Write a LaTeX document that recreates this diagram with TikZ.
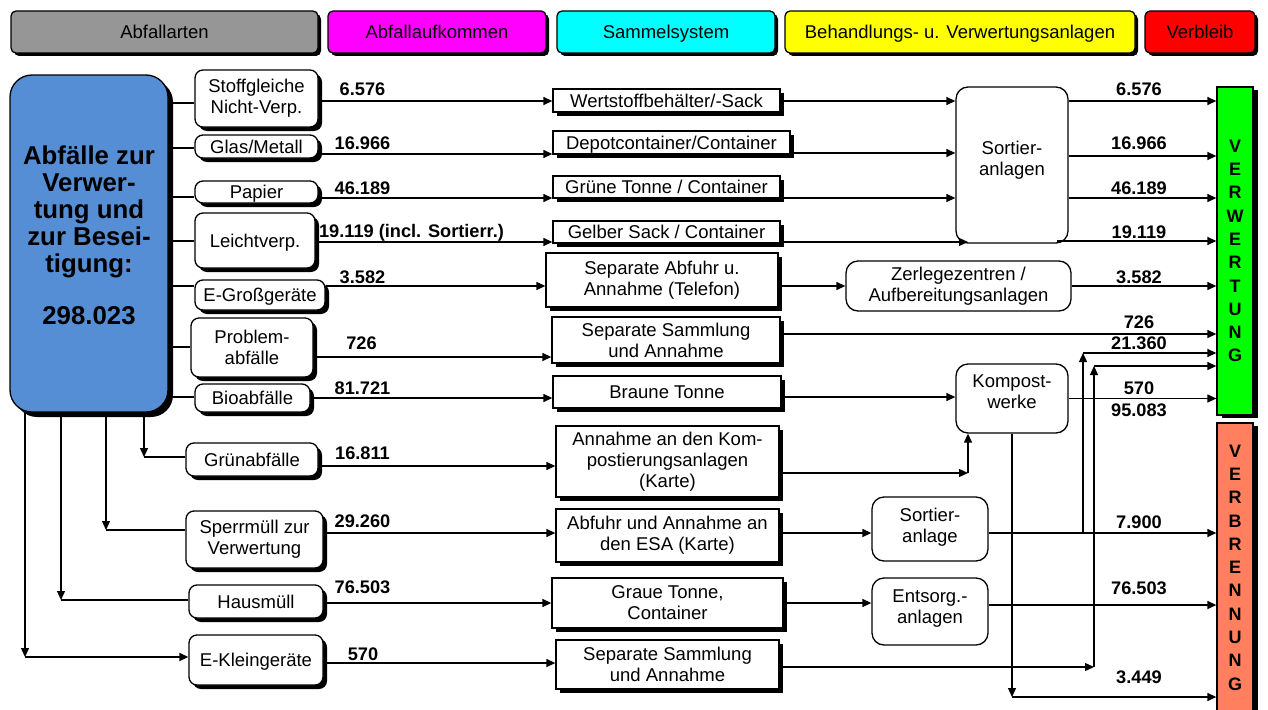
\documentclass[tikz,border=0pt]{standalone}
\usepackage{fontspec}
\setmainfont{Liberation Sans}
\usetikzlibrary{arrows.meta,shadows}
\definecolor{hgray}{RGB}{150,150,150}
\definecolor{hmag}{RGB}{255,0,255}
\definecolor{hcyan}{RGB}{0,255,255}
\definecolor{hyel}{RGB}{255,255,0}
\definecolor{hred}{RGB}{255,0,0}
\definecolor{abfblue}{RGB}{85,142,213}
\definecolor{vgreen}{RGB}{0,255,0}
\definecolor{vsalmon}{RGB}{255,127,95}
\begin{document}
\begin{tikzpicture}[x=1pt,y=-1pt,
  lw/.style={line width=1.3pt},
  arr/.style={line width=1.3pt,-{Triangle[length=9pt,width=8pt]}},
  one/.style={text height=13.3pt,text depth=0pt},
  hdr/.style={draw,line width=1.3pt,rounded corners=5pt,minimum height=42pt,inner sep=0pt,one,
    font=\fontsize{18.5}{21}\selectfont,
    drop shadow={shadow xshift=3pt,shadow yshift=-3pt,fill=black,opacity=1}},
  shad/.style={drop shadow={shadow xshift=4pt,shadow yshift=-4pt,fill=black,opacity=1}},
  txt/.style={inner sep=0pt,align=center,font=\fontsize{18.5}{21}\selectfont},
  lbox/.style={txt,draw,fill=white,line width=1.3pt,rounded corners=8pt,shad},
  mbox/.style={txt,draw,fill=white,line width=1.3pt,shad},
  rbox/.style={txt,draw,fill=white,line width=1.3pt,rounded corners=12pt},
  num/.style={inner sep=0pt,font=\bfseries\fontsize{18.2}{20}\selectfont},
  bar/.style={draw,line width=1.3pt,inner sep=0pt,minimum width=36pt,align=center,
    font=\bfseries\fontsize{18}{23.3}\selectfont,
    drop shadow={shadow xshift=5pt,shadow yshift=-3pt,fill=black,opacity=1}}
]
\useasboundingbox (0,0) rectangle (1268,709);

% headers
\node[hdr,fill=hgray,minimum width=307pt] (hA) at (164.5,32) {Abfallarten};
\node[hdr,fill=hmag,minimum width=218pt] (hB) at (437,32) {Abfallaufkommen};
\node[hdr,fill=hcyan,minimum width=218pt] (hC) at (666,32) {Sammelsystem};
\node[hdr,fill=hyel,minimum width=350pt] (hD) at (960,32) {Behandlungs- u. Verwertungsanlagen};
\node[hdr,fill=hred,minimum width=110pt] (hE) at (1200,32) {Verbleib};

% big blue box
\node[txt,draw,fill=abfblue,line width=1.3pt,rounded corners=22pt,minimum width=158pt,minimum height=337pt,
  font=\bfseries\fontsize{25.8}{27}\selectfont,
  drop shadow={shadow xshift=5pt,shadow yshift=-5pt,fill=black,opacity=1}]
  (blue) at (89,243.5) {Abfälle zur\\Verwer-\\tung und\\zur Besei-\\tigung:\\[25pt]298.023\\[-10pt]\mbox{}};

% left boxes
\node[lbox,minimum width=123pt,minimum height=57pt] (stoff) at (256.5,98.5) {Stoffgleiche\\Nicht-Verp.};
\node[lbox,one,minimum width=123pt,minimum height=23pt] (glas) at (256.5,146.5) {Glas/Metall};
\node[lbox,one,minimum width=123pt,minimum height=22pt] (papier) at (256.5,192) {Papier};
\node[lbox,one,minimum width=120pt,minimum height=55pt] (leicht) at (255,240.5) {Leichtverp.};
\node[lbox,one,minimum width=130pt,minimum height=30pt] (egross) at (260,295) {E-Großgeräte};
\node[lbox,minimum width=122pt,minimum height=59pt] (problem) at (252,347.5) {Problem-\\abfälle};
\node[lbox,one,minimum width=115pt,minimum height=28pt] (bio) at (252.5,398) {Bioabfälle};
\node[lbox,one,minimum width=132pt,minimum height=33pt] (gruen) at (252,459.5) {Grünabfälle};
\node[lbox,minimum width=137pt,minimum height=57pt] (sperr) at (254.5,539.5) {Sperrmüll zur\\Verwertung};
\node[lbox,one,minimum width=134pt,minimum height=33pt] (haus) at (256,601.5) {Hausmüll};
\node[lbox,one,minimum width=134pt,minimum height=50pt] (eklein) at (256,660) {E-Kleingeräte};

% middle boxes
\node[mbox,one,minimum width=227pt,minimum height=23pt] (wert) at (666.5,100.5) {Wertstoffbehälter/-Sack};
\node[mbox,one,minimum width=237pt,minimum height=23pt] (depot) at (671.5,142.5) {Depotcontainer/Container};
\node[mbox,one,minimum width=227pt,minimum height=22pt] (gruene) at (666.5,187) {Grüne Tonne / Container};
\node[mbox,one,minimum width=227pt,minimum height=22pt] (gelb) at (666.5,232) {Gelber Sack / Container};
\node[mbox,minimum width=232pt,minimum height=54pt] (sepab) at (662,280) {Separate Abfuhr u.\\Annahme (Telefon)};
\node[mbox,minimum width=228pt,minimum height=46pt] (sepsam) at (666,340) {Separate Sammlung\\und Annahme};
\node[mbox,one,minimum width=228pt,minimum height=32pt] (braune) at (667,392) {Braune Tonne};
\node[mbox,minimum width=223pt,minimum height=71pt] (annk) at (667.5,461.5) {Annahme an den Kom-\\postierungsanlagen\\(Karte)};
\node[mbox,minimum width=223pt,minimum height=53pt] (abfesa) at (667.5,535.5) {Abfuhr und Annahme an\\den ESA (Karte)};
\node[mbox,minimum width=231pt,minimum height=50pt] (graue) at (667.5,603) {Graue Tonne,\\Container};
\node[mbox,minimum width=223pt,minimum height=49pt] (sepsam2) at (667.5,664.5) {Separate Sammlung\\und Annahme};

% treatment boxes
\node[rbox,minimum width=112pt,minimum height=156pt] (sort) at (1012,165) {Sortier-\\anlagen\\[-7pt]\mbox{}};
\node[rbox,minimum width=225pt,minimum height=50pt] (zerl) at (958.5,286) {Zerlegezentren /\\Aufbereitungsanlagen};
\node[rbox,minimum width=112pt,minimum height=69pt] (kompost) at (1012,398.5) {Kompost-\\werke\\[-8pt]\mbox{}};
\node[rbox,minimum width=116pt,minimum height=64pt] (sortl) at (930,529) {Sortier-\\anlage\\[-13pt]\mbox{}};
\node[rbox,minimum width=116pt,minimum height=67pt] (entsorg) at (930,611.5) {Entsorg.-\\anlagen\\[-12pt]\mbox{}};

% bars
\node[bar,fill=vgreen,minimum height=328pt] (verw) at (1235,251) {V\\E\\R\\W\\E\\R\\T\\U\\N\\G};
\node[bar,fill=vsalmon,minimum height=289pt] (verb) at (1235,567.5) {V\\E\\R\\B\\R\\E\\N\\N\\U\\N\\G};

% row coordinates
\coordinate (b1) at (0,103);
\coordinate (b2) at (0,148);
\coordinate (b3) at (0,197);
\coordinate (b4) at (0,241);
\coordinate (b5) at (0,286);
\coordinate (b6) at (0,347);
\coordinate (b7) at (0,397);
\coordinate (r1) at (0,101);
\coordinate (r2) at (0,154);
\coordinate (r3) at (0,198);
\coordinate (r4) at (0,242);
\coordinate (r5) at (0,286);
\coordinate (r6) at (0,357);
\coordinate (r7) at (0,398);
\coordinate (r8) at (0,466);
\coordinate (r9) at (0,533);
\coordinate (r10) at (0,603);
\coordinate (r11) at (0,663);
\coordinate (s2) at (0,153);
\coordinate (o2) at (0,156);
\coordinate (q6) at (0,334);
\coordinate (k7) at (0,397);
\coordinate (e10) at (0,605);
\coordinate (gelbend) at (968,242);
\coordinate (s4) at (1057,241);
\coordinate (kc) at (968,473);
\coordinate (kd) at (1012,697);
\coordinate (j1b) at (1083,533);
\coordinate (j1t) at (1083,353);
\coordinate (j2b) at (1094,667);
\coordinate (j2t) at (1094,366);
\coordinate (c8) at (144,457);
\coordinate (c9) at (106,530);
\coordinate (c10) at (61,600);
\coordinate (c11) at (25,657);

% blue box to left boxes
\draw[lw] (blue.east |- b1) -- (stoff.west |- b1);
\draw[lw] (blue.east |- b2) -- (glas.west |- b2);
\draw[lw] (blue.east |- b3) -- (papier.west |- b3);
\draw[lw] (blue.east |- b4) -- (leicht.west |- b4);
\draw[lw] (blue.east |- b5) -- (egross.west |- b5);
\draw[lw] (blue.east |- b6) -- (problem.west |- b6);
\draw[lw] (blue.east |- b7) -- (bio.west |- b7);
\draw[arr] (blue.south -| c8) -- (c8);
\draw[lw] (c8) -- (gruen.west |- c8);
\draw[arr] (blue.south -| c9) -- (c9);
\draw[lw] (c9) -- (sperr.west |- c9);
\draw[arr] (blue.south -| c10) -- (c10);
\draw[lw] (c10) -- (haus.west |- c10);
\draw[arr] (blue.south -| c11) -- (c11);
\draw[arr] (c11) -- (eklein.west |- c11);

% left boxes to collection systems
\draw[arr] (stoff.east |- r1) -- (wert.west |- r1);
\draw[arr] (glas.east |- r2) -- (depot.west |- r2);
\draw[arr] (papier.east |- r3) -- (gruene.west |- r3);
\draw[arr] (leicht.east |- r4) -- (gelb.west |- r4);
\draw[arr] (egross.east |- r5) -- (sepab.west |- r5);
\draw[arr] (problem.east |- r6) -- (sepsam.west |- r6);
\draw[arr] (bio.east |- r7) -- (braune.west |- r7);
\draw[arr] (gruen.east |- r8) -- (annk.west |- r8);
\draw[arr] (sperr.east |- r9) -- (abfesa.west |- r9);
\draw[arr] (haus.east |- r10) -- (graue.west |- r10);
\draw[arr] (eklein.east |- r11) -- (sepsam2.west |- r11);

% left amounts
\node[num] (l1) at (362.5,89) {6.576};
\node[num] (l2) at (362.5,143) {16.966};
\node[num] (l3) at (362.5,188) {46.189};
\node[num] (l4) at (411.5,233) {19.119 (incl. Sortierr.)};
\node[num] (l5) at (362.5,277) {3.582};
\node[num] (l6) at (361.5,343) {726};
\node[num] (l7) at (362.5,388) {81.721};
\node[num] (l8) at (362.5,453) {16.811};
\node[num] (l9) at (362.5,521) {29.260};
\node[num] (l10) at (362.5,587) {76.503};
\node[num] (l11) at (363,654) {570};

% collection to treatment
\draw[arr] (wert.east |- r1) -- (sort.west |- r1);
\draw[arr] (depot.east |- s2) -- (sort.west |- s2);
\draw[arr] (gruene.east |- r3) -- (sort.west |- r3);
\draw[arr] (gelb.east |- r4) -- (gelbend);
\draw[arr] (sepab.east |- r5) -- (zerl.west |- r5);
\draw[arr] (braune.east |- k7) -- (kompost.west |- k7);
\draw[arr] (annk.east |- kc) -- (kc);
\draw[arr] (kc) -- (kc |- kompost.south);
\draw[arr] (abfesa.east |- r9) -- (sortl.west |- r9);
\draw[arr] (graue.east |- r10) -- (entsorg.west |- r10);

% to Verwertung
\draw[arr] (sort.east |- r1) -- (verw.west |- r1);
\draw[arr] (sort.east |- o2) -- (verw.west |- o2);
\draw[arr] (sort.east |- r3) -- (verw.west |- r3);
\draw[arr] (s4) -- (verw.west |- s4);
\draw[arr] (zerl.east |- r5) -- (verw.west |- r5);
\draw[arr] (sepsam.east |- q6) -- (verw.west |- q6);
\draw[arr] (j1b) -- (j1t);
\draw[arr] (j1t) -- (verw.west |- j1t);
\draw[arr] (sepsam2.east |- j2b) -- (j2b);
\draw[arr] (j2b) -- (j2t);
\draw[arr] (j2t) -- (verw.west |- j2t);
\draw[arr] (kompost.east) -- (verw.west |- kompost.east);

% to Verbrennung
\draw[arr] (sortl.east |- r9) -- (verb.west |- r9);
\draw[arr] (entsorg.east |- e10) -- (verb.west |- e10);
\draw[arr] (kompost.south) -- (kd);
\draw[arr] (kd) -- (verb.west |- kd);

% right amounts
\node[num] (m1) at (1139,89) {6.576};
\node[num] (m2) at (1139,143) {16.966};
\node[num] (m3) at (1139,188) {46.189};
\node[num] (m4) at (1139,232) {19.119};
\node[num] (m5) at (1139,277) {3.582};
\node[num] (m6) at (1139,322) {726};
\node[num] (m7) at (1139,343) {21.360};
\node[num] (m8) at (1139,388) {570};
\node[num] (m9) at (1139,410) {95.083};
\node[num] (m10) at (1139,522) {7.900};
\node[num] (m11) at (1139,588) {76.503};
\node[num] (m12) at (1139,677) {3.449};
\end{tikzpicture}
\end{document}
